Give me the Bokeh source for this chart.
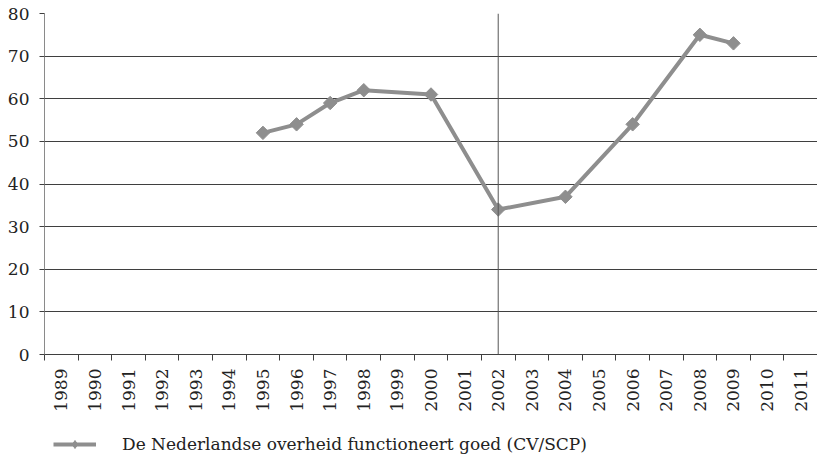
import math
from bokeh.plotting import figure
from bokeh.layouts import column
from bokeh.models import Range1d, FixedTicker, Span, Legend, LegendItem
from bokeh.embed import file_html
from bokeh.resources import INLINE

# ---- data ----
years = [1989, 1990, 1991, 1992, 1993, 1994, 1995, 1996, 1997, 1998, 1999, 2000,
         2001, 2002, 2003, 2004, 2005, 2006, 2007, 2008, 2009, 2010, 2011]
obs_years = [1995, 1996, 1997, 1998, 2000, 2002, 2004, 2006, 2008, 2009]
values = [52, 54, 59, 62, 61, 34, 37, 54, 75, 73]
y_ticks = [0, 10, 20, 30, 40, 50, 60, 70, 80]
series_label = "De Nederlandse overheid functioneert goed (CV/SCP)"
marker_year = 2002

FONT = "DejaVu Serif"
GREY = "#8e8e8e"
GRID = "#3f3f3f"
TEXT = "#222222"

p = figure(frame_width=773, frame_height=341, output_backend="svg", toolbar_location=None,
           x_range=Range1d(years[0] - 0.5, years[-1] + 0.5),
           y_range=Range1d(y_ticks[0], y_ticks[-1]),
           min_border_left=44, min_border_right=0, min_border_top=13,
           min_border_bottom=0)
p.outline_line_color = None
p.background_fill_color = "white"
p.border_fill_color = "white"

# x axis: labels at year centres, tick marks at category boundaries
xa = p.xaxis[0]
xa.ticker = FixedTicker(ticks=years,
                        minor_ticks=[y - 0.5 for y in years] + [years[-1] + 0.5])
xa.major_tick_line_color = None
xa.minor_tick_line_color = GRID
xa.minor_tick_out = 6
xa.minor_tick_in = 0
xa.axis_line_color = GRID
xa.major_label_orientation = math.pi / 2
xa.major_label_standoff = 8
xa.major_label_text_font = FONT
xa.major_label_text_font_size = "17px"
xa.major_label_text_color = TEXT

ya = p.yaxis[0]
ya.ticker = FixedTicker(ticks=y_ticks)
ya.major_tick_out = 5
ya.major_tick_in = 0
ya.major_tick_line_color = GRID
ya.minor_tick_line_color = None
ya.axis_line_color = "#8a8a8a"
ya.major_label_standoff = 10
ya.major_label_text_font = FONT
ya.major_label_text_font_size = "17px"
ya.major_label_text_color = TEXT

p.xgrid.grid_line_color = None
p.ygrid.grid_line_color = GRID
p.ygrid.grid_line_width = 1

p.add_layout(Span(location=marker_year, dimension="height",
                  line_color="#555555", line_width=1))

p.line(obs_years, values, line_color=GREY, line_width=4)
p.scatter(obs_years, values, marker="square", angle=math.pi / 4,
          size=9.5, fill_color=GREY, line_color=GREY)

# ---- legend strip below the chart ----
p2 = figure(width=817, height=42, output_backend="svg", toolbar_location=None,
            x_range=Range1d(years[0] - 0.5, years[-1] + 0.5),
            y_range=Range1d(1000, 1001),
            x_axis_location=None, y_axis_location=None,
            min_border_left=0, min_border_right=0, min_border_top=0,
            min_border_bottom=0)
p2.outline_line_color = None
p2.background_fill_color = "white"
p2.border_fill_color = "white"
p2.grid.visible = False

leg_line = p2.line(obs_years, values, line_color=GREY, line_width=4)
leg_mark = p2.scatter(obs_years, values, marker="diamond", size=12,
                      fill_color=GREY, line_color=GREY)

legend = Legend(items=[LegendItem(label=series_label, renderers=[leg_line, leg_mark])],
                location=(9, 2), orientation="horizontal",
                glyph_width=43, glyph_height=20, label_height=20,
                label_standoff=26, padding=0, margin=0, spacing=0,
                border_line_color=None, background_fill_alpha=0,
                label_text_font=FONT, label_text_font_size="17px",
                label_text_color=TEXT)
p2.add_layout(legend, "center")

layout = column(p, p2, spacing=0)
open("out.html", "w").write(file_html(layout, INLINE))
